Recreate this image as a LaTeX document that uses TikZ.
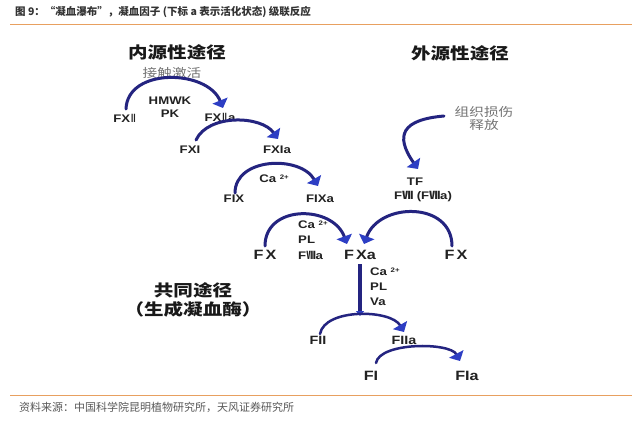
\documentclass[tikz,border=0pt]{standalone}
\usepackage{fontspec}
\usepackage{graphicx}
\usetikzlibrary{arrows.meta}
\setmainfont{Liberation Sans}
\newfontfamily\lbf[FakeStretch=1.2]{Liberation Sans}
\newfontfamily\cjk{Noto Sans CJK SC}
\newfontfamily\cjkw[FakeStretch=1.22]{Noto Sans CJK SC}
\newcommand\rn[2][1]{\scalebox{#1}[1]{\cjk\bfseries #2}}
\newcommand\caii{Ca\,\,\raisebox{0.55ex}{\fontsize{6.5}{7}\selectfont 2+}}
\definecolor{arcblue}{RGB}{36,36,128}
\definecolor{tipblue}{RGB}{45,62,196}
\definecolor{rule}{RGB}{232,160,96}
\definecolor{txt}{RGB}{34,34,34}
\begin{document}
\begin{tikzpicture}[x=1pt,y=1pt,
  lbl/.style={font=\lbf\fontsize{11}{12}\selectfont\bfseries, text=txt, inner sep=0pt},
  lblm/.style={font=\lbf\fontsize{12}{13}\selectfont\bfseries, text=txt, inner sep=0pt},
  lblb/.style={font=\lbf\fontsize{13.5}{14}\selectfont\bfseries, text=txt, inner sep=0pt},
  head/.style={font=\cjkw\fontsize{16}{18}\selectfont\bfseries, text=black!90, inner sep=0pt},
  note/.style={font=\cjkw\fontsize{12}{14}\selectfont, text=black!55, inner sep=0pt, align=center},
  arcar/.style={draw=arcblue, line width=3pt, line cap=round,
     -{Triangle[length=8pt,width=16pt,color=tipblue]}},
  vline/.style={draw=arcblue, line width=3.5pt, -{Triangle[length=5pt,width=8pt,color=tipblue]}},
  rulel/.style={draw=rule, line width=1pt}]
\useasboundingbox (0,0) rectangle (642,-430);
\fill[white] (0,0) rectangle (642,-430);

% title and source
\node[anchor=west, inner sep=0pt, font=\cjk\fontsize{10.5}{12}\selectfont\bfseries, text=black!80]
  (title) at (15,-12) {图 9：“凝血瀑布”，凝血因子 (下标 a 表示活化状态) 级联反应};
\coordinate (r1a) at (10,-25); \coordinate (r1b) at (632,-25);
\draw[rulel] (r1a) -- (r1b);
\coordinate (r2a) at (10,-395); \coordinate (r2b) at (632,-395);
\draw[rulel] (r2a) -- (r2b);
\node[anchor=west, inner sep=0pt, font=\cjk\fontsize{11}{12}\selectfont, text=black!65]
  (src) at (19,-407) {资料来源：中国科学院昆明植物研究所，天风证券研究所};

% headings
\node[head] (intr) at (177,-52) {内源性途径};
\node[head] (extr) at (460,-53) {外源性途径};
\node[head] (comm1) at (193,-290) {共同途径};
\node[head] (comm2) at (193,-309) {（生成凝血酶）};
\node[note] (contact) at (172,-73) {接触激活};
\node[note] (tissue) at (484,-118) {组织损伤\\[-1pt]释放};

% factor labels
\node[lbl] (hmwk) at (170,-101) {HMWK};
\node[lbl] (pk) at (170,-114) {PK};
\node[lbl] (f12) at (125,-118) {FX\rn[0.6]{Ⅱ}};
\node[lbl] (f12a) at (220,-117) {FX\rn[0.6]{Ⅱ}a};
\node[lbl] (f11) at (190,-150) {FXI};
\node[lbl] (f11a) at (277,-150) {FXIa};
\node[lbl] (ca1) at (274,-179) {\caii};
\node[lbl] (f9) at (234,-199) {FIX};
\node[lbl] (f9a) at (320,-199) {FIXa};
\node[lblb] (fxl) at (265,-255) {F\,X};
\node[lbl, anchor=west] (ca2) at (298,-225) {\caii};
\node[lbl, anchor=west] (pl2) at (298,-240) {PL};
\node[lbl, anchor=west] (f8a) at (298,-255) {F\rn[0.85]{Ⅷ}a};
\node[lblb] (fxa) at (360,-255) {F\,Xa};
\node[lblb] (fxr) at (456,-255) {F\,X};
\node[lbl] (tf) at (415,-182) {TF};
\node[lbl] (f7) at (423,-197) {F\rn{Ⅶ} (F\rn{Ⅶ}a)};
\node[lbl, anchor=west] (ca3) at (370,-272) {\caii};
\node[lbl, anchor=west] (pl3) at (370,-287) {PL};
\node[lbl, anchor=west] (va) at (370,-302) {Va};
\node[lblm] (f2) at (318,-340) {FII};
\node[lblm] (f2a) at (404,-340) {FIIa};
\node[lblb] (f1) at (371,-376) {FI};
\node[lblb] (f1a) at (467,-376) {FIa};

% arc end points
\coordinate (a1s) at (126,-109); \coordinate (a1e) at (223,-108);
\coordinate (a2s) at (196,-140); \coordinate (a2e) at (278,-139);
\coordinate (a3s) at (235,-193); \coordinate (a3e) at (318,-186);
\coordinate (a4s) at (265,-246); \coordinate (a4e) at (347,-244);
\coordinate (a5s) at (452,-246); \coordinate (a5e) at (364,-244);
\coordinate (a6s) at (444,-116); \coordinate (a6e) at (418,-169);
\coordinate (a7s) at (320,-334); \coordinate (a7e) at (404,-332);
\coordinate (a8s) at (376,-363); \coordinate (a8e) at (460,-361);
\coordinate (vs) at (360,-264); \coordinate (ve) at (360,-316);

\draw[arcar] (a1s) to[out=88, in=112, looseness=1.1] (a1e);
\draw[arcar] (a2s) to[out=65, in=125, looseness=0.9] (a2e);
\draw[arcar] (a3s) to[out=90, in=120, looseness=1.1] (a3e);
\draw[arcar] (a4s) to[out=90, in=110, looseness=1.3] (a4e);
\draw[arcar] (a5s) to[out=90, in=70, looseness=1.3] (a5e);
\draw[arcar] (a6s) to[out=185, in=125, looseness=1.8] (a6e);
\draw[vline] (vs) -- (ve);
\draw[arcar, line width=2.5pt] (a7s) to[out=80, in=120, looseness=0.8] (a7e);
\draw[arcar, line width=2.5pt] (a8s) to[out=80, in=118, looseness=0.65] (a8e);
\end{tikzpicture}
\end{document}
